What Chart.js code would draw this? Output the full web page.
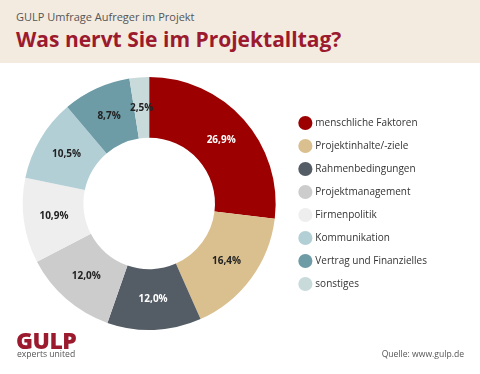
<!DOCTYPE html>
<html>
<head>
<meta charset="utf-8">
<script src="https://cdn.jsdelivr.net/npm/chart.js@4"></script>
<style>
  body { margin: 0; width: 480px; height: 374px; background: #fff; font-family: "Open Sans", sans-serif; position: relative; overflow: hidden; }
  #head { position: absolute; left: 0; top: 0; width: 480px; height: 63px; background: #f3ebe0; }
  #sub { position: absolute; left: 16px; top: 9px; font-size: 11px; color: #555; }
  #title { position: absolute; left: 16px; top: 25px; font-size: 21px; font-weight: bold; color: #9b1a2e; }
  #chartBox { position: absolute; left: 0; top: 0; width: 480px; height: 374px; }
  #logo { position: absolute; left: 16px; top: 324px; font-size: 23px; font-weight: 800; color: #9b1a2e; letter-spacing: -0.5px; }
  #claim { position: absolute; left: 17px; top: 348px; font-size: 8.6px; color: #555; }
  #src { position: absolute; right: 16px; top: 348px; font-size: 8.6px; color: #555; }
</style>
</head>
<body>
<div id="head">
  <div id="sub">GULP Umfrage Aufreger im Projekt</div>
  <div id="title">Was nervt Sie im Projektalltag?</div>
</div>
<div id="chartBox"><canvas id="myChart" width="480" height="374"></canvas></div>
<div id="logo">GULP</div>
<div id="claim">experts united</div>
<div id="src">Quelle: www.gulp.de</div>
<script>
const categories = ['menschliche Faktoren', 'Projektinhalte/-ziele', 'Rahmenbedingungen', 'Projektmanagement',
  'Firmenpolitik', 'Kommunikation', 'Vertrag und Finanzielles', 'sonstiges']
const values = [26.9, 16.4, 12.0, 12.0, 10.9, 10.5, 8.7, 2.5]
const colors = ['#9c0000', '#dbc08f', '#545c65', '#cccccc', '#eeeeee', '#b3cfd6', '#6d9ba6', '#c9dadb']
const labelColors = ['#ffffff', '#222222', '#ffffff', '#222222', '#222222', '#222222', '#222222', '#222222']

// percent labels inside the slices
const sliceLabels = {
    id: 'sliceLabels',
    afterDatasetsDraw(chart) {
        const ctx = chart.ctx
        const meta = chart.getDatasetMeta(0)
        ctx.save()
        ctx.font = 'bold 10px "Open Sans"'
        ctx.textAlign = 'center'
        ctx.textBaseline = 'middle'
        meta.data.forEach((arc, i) => {
            const pos = arc.tooltipPosition()
            ctx.fillStyle = labelColors[i]
            ctx.fillText(values[i].toFixed(1).replace('.', ',') + '%', pos.x, pos.y)
        })
        ctx.restore()
    }
}

Chart.defaults.font.family = '"Open Sans"'
new Chart(document.getElementById('myChart'), {
    type: 'doughnut',
    data: {
        labels: categories,
        datasets: [{
            data: values,
            backgroundColor: colors,
            borderWidth: 0
        }]
    },
    options: {
        responsive: false,
        animation: false,
        cutout: '52%',
        layout: {
            padding: { top: 77, bottom: 44, left: 11, right: 43 }
        },
        plugins: {
            tooltip: { enabled: false },
            legend: {
                position: 'right',
                labels: {
                    usePointStyle: true,
                    pointStyle: 'circle',
                    padding: 13,
                    color: '#333',
                    font: { size: 10 }
                }
            }
        }
    },
    plugins: [sliceLabels]
})
</script>
</body>
</html>
